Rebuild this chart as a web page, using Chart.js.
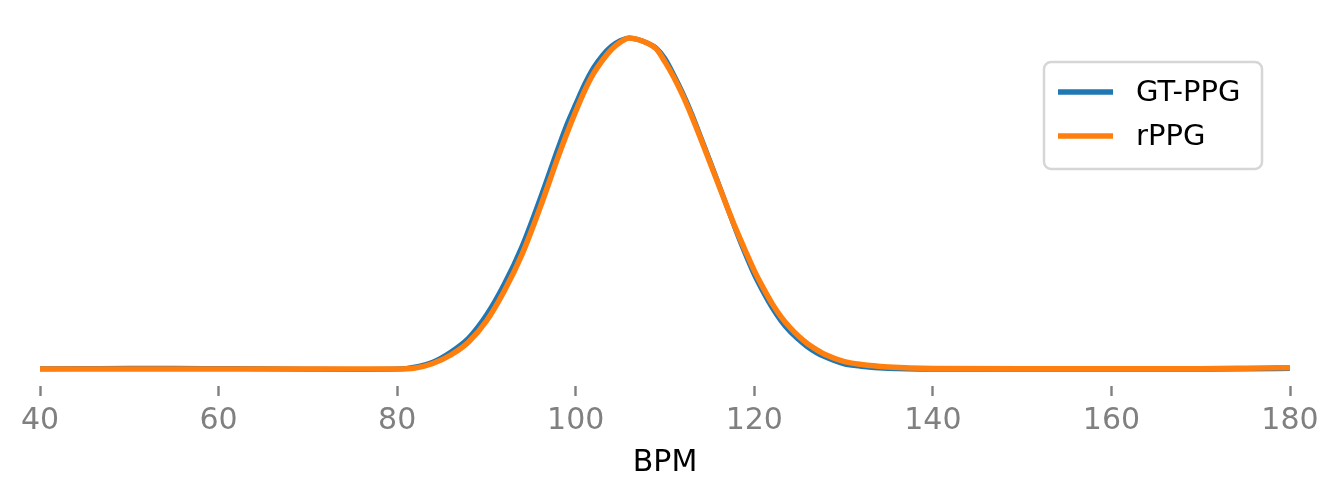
<!DOCTYPE html>
<html>
<head>
<meta charset="utf-8">
<script src="https://cdn.jsdelivr.net/npm/chart.js@4/dist/chart.umd.min.js"></script>
<style>
  html, body { margin: 0; padding: 0; background: #fff; }
  #wrap { width: 1341px; height: 504px; position: relative; }
</style>
</head>
<body>
<div id="wrap"><canvas id="kde"></canvas></div>
<script>
// BPM grid the density curves were read at
const bpm = [40, 45, 50, 55, 60, 65, 70, 75, 80,
  82, 84, 86, 88, 90, 92, 94, 96, 98, 99,
  100, 101, 102, 103, 104, 105, 106, 107, 108, 109, 110, 111, 112, 113, 114,
  115, 116, 117, 118, 119, 120, 121, 122, 123, 124, 125, 126, 127, 128,
  130, 132, 135, 140, 150, 160, 170, 175, 180];

// GT-PPG density
const gtPpg = [0.0001, 0.00013, 0.00016, 0.00016, 0.00013, 0.0001, 0.00005, 0.00002, 0.00007,
  0.00032, 0.00092, 0.00213, 0.00383, 0.00662, 0.01038, 0.015, 0.0207, 0.0268, 0.0297,
  0.0322, 0.0346, 0.0366, 0.0381, 0.0392, 0.0399, 0.0402, 0.04, 0.0396, 0.039, 0.0377, 0.0357, 0.0335, 0.031, 0.0282,
  0.0254, 0.0225, 0.0196, 0.0167, 0.014, 0.0115, 0.0094, 0.0075, 0.0059, 0.0046, 0.0036, 0.0027, 0.002, 0.0015,
  0.0007, 0.00038, 0.00013, 0.00004, 0.00004, 0.00004, 0.00005, 0.00007, 0.00013];

// rPPG density
const rPpg = [0.00007, 0.00007, 0.00007, 0.00007, 0.00007, 0.00007, 0.00007, 0.00007, 0.00007,
  0.00019, 0.00074, 0.00177, 0.00335, 0.00589, 0.00953, 0.014, 0.0196, 0.0257, 0.0286,
  0.0313, 0.0338, 0.0359, 0.0375, 0.0388, 0.0397, 0.0402, 0.04, 0.0396, 0.0389, 0.0373, 0.0354, 0.0332, 0.0307, 0.028,
  0.0252, 0.0224, 0.0196, 0.0169, 0.0144, 0.012, 0.0099, 0.008, 0.0064, 0.0051, 0.004, 0.0031, 0.0024, 0.0018,
  0.001, 0.00062, 0.00032, 0.00013, 0.0001, 0.0001, 0.00011, 0.00016, 0.00023];

const xTicks = [40, 60, 80, 100, 120, 140, 160, 180];

const pts = (ys) => bpm.map((x, i) => ({ x, y: ys[i] }));

// matplotlib-style boxed legend in the upper right
const boxLegend = {
  id: "boxLegend",
  afterDraw(chart) {
    const ctx = chart.ctx;
    const x = 1044, y = 62, w = 218, h = 107, r = 7;
    ctx.save();
    ctx.beginPath();
    ctx.roundRect(x, y, w, h, r);
    ctx.fillStyle = "rgba(255,255,255,0.8)";
    ctx.fill();
    ctx.lineWidth = 2.5;
    ctx.strokeStyle = "#d6d6d6";
    ctx.stroke();
    ctx.font = "29px 'DejaVu Sans'";
    ctx.textBaseline = "middle";
    const rows = [92, 136];
    [chart.data.datasets[0], chart.data.datasets[1]].forEach((ds, i) => {
      ctx.beginPath();
      ctx.moveTo(1058, rows[i]);
      ctx.lineTo(1113, rows[i]);
      ctx.lineWidth = 5.5;
      ctx.strokeStyle = ds.borderColor;
      ctx.stroke();
      ctx.fillStyle = "#000";
      ctx.fillText(ds.label, 1136, rows[i] + 1);
    });
    ctx.restore();
  },
};

new Chart(document.getElementById("kde"), {
  type: "line",
  data: {
    datasets: [
      { label: "GT-PPG", data: pts(gtPpg), borderColor: "#1f77b4", borderWidth: 5, order: 1 },
      { label: "rPPG", data: pts(rPpg), borderColor: "#ff7f0e", borderWidth: 5.5, order: 0 },
    ],
  },
  options: {
    responsive: true,
    maintainAspectRatio: false,
    animation: false,
    layout: { padding: { left: 40, right: 51, top: 20, bottom: 0 } },
    elements: {
      point: { radius: 0 },
      line: { cubicInterpolationMode: "monotone", borderCapStyle: "butt", borderJoinStyle: "round" },
    },
    plugins: { legend: { display: false }, tooltip: { enabled: false } },
    scales: {
      x: {
        type: "linear",
        min: 40,
        max: 180,
        afterFit: (s) => { s.height = 118; },
        afterBuildTicks: (s) => { s.ticks = xTicks.map((v) => ({ value: v })); },
        border: { display: false },
        grid: { drawOnChartArea: false, drawTicks: true, tickLength: 10, tickWidth: 2.4, tickColor: "#808080" },
        ticks: { color: "#808080", padding: 7, maxRotation: 0, font: { family: "DejaVu Sans", size: 30 } },
        title: { display: true, text: "BPM", color: "#000", padding: { top: 0, bottom: 23 }, font: { family: "DejaVu Sans", size: 30 } },
      },
      y: { display: false, min: -0.00199, max: 0.04238 },
    },
  },
  plugins: [boxLegend],
});
</script>
</body>
</html>
